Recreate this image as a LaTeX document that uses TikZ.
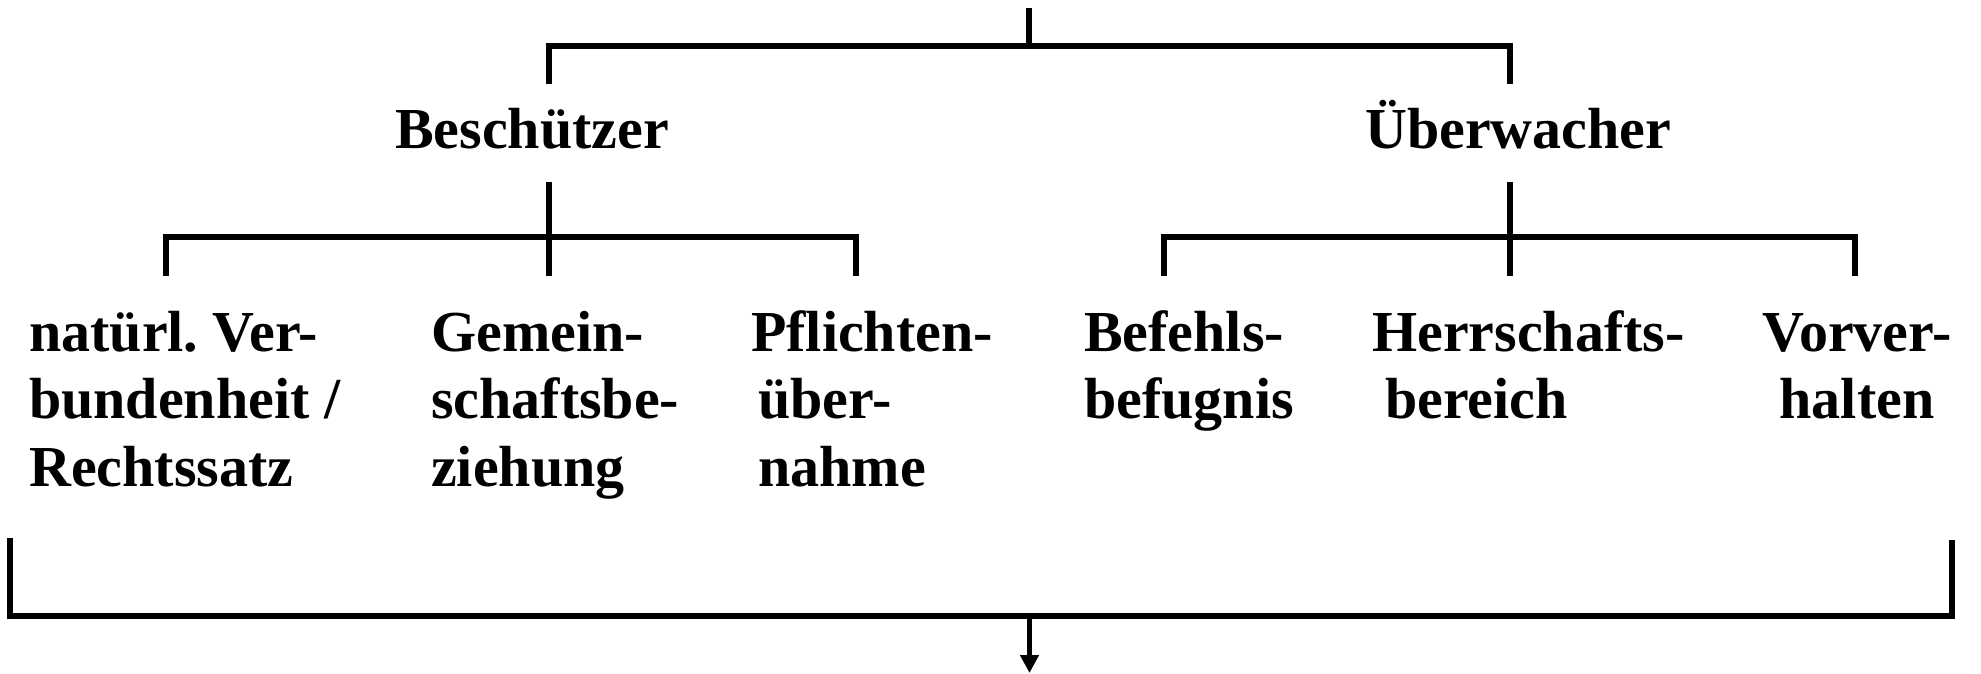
\documentclass[tikz,border=0pt]{standalone}
\usepackage{fontspec}
\setmainfont{Liberation Serif}
\usetikzlibrary{arrows.meta}
\frenchspacing
\begin{document}
\begin{tikzpicture}[x=1pt,y=-1pt,
  line/.style={line width=5.5pt},
  lbl/.style={inner sep=0pt, font=\fontsize{58}{67.5}\selectfont\bfseries\frenchspacing, anchor=base west}]
\useasboundingbox (0,0) rectangle (1981,673);
% labels
\node[lbl] (besch) at (395,148) {Beschützer};
\node[lbl] (uber) at (1365,148) {Überwacher};
\node[lbl] (n1) at (29,351) {\begin{tabular}[t]{@{}l@{}}natürl. Ver-\\bundenheit /\\Rechtssatz\end{tabular}};
\node[lbl] (n2) at (431,351) {\begin{tabular}[t]{@{}l@{}}Gemein-\\schaftsbe-\\ziehung\end{tabular}};
\node[lbl] (n3) at (751,351) {\begin{tabular}[t]{@{}l@{}}Pflichten-\\\hspace*{7pt}über-\\\hspace*{7pt}nahme\end{tabular}};
\node[lbl] (n4) at (1084,351) {\begin{tabular}[t]{@{}l@{}}Befehls-\\befugnis\end{tabular}};
\node[lbl] (n5) at (1372,351) {\begin{tabular}[t]{@{}l@{}}Herrschafts-\\\hspace*{13pt}bereich\end{tabular}};
\node[lbl, anchor=base] (n6) at (1857,351) {\begin{tabular}[t]{@{}c@{}}Vorver-\\halten\end{tabular}};
% coordinates
\coordinate (root) at (1029,8);
\coordinate (rootj) at (1029,46);
\coordinate (tl) at (549,46);
\coordinate (tr) at (1510,46);
\coordinate (tlb) at (549,84);
\coordinate (trb) at (1510,84);
\coordinate (bs) at (549,182);
\coordinate (bl) at (166,237);
\coordinate (br) at (856,237);
\coordinate (c1) at (166,276);
\coordinate (c2) at (549,276);
\coordinate (c3) at (856,276);
\coordinate (us) at (1510,182);
\coordinate (ul) at (1164,237);
\coordinate (ur) at (1855,237);
\coordinate (d1) at (1164,276);
\coordinate (d2) at (1510,276);
\coordinate (d3) at (1855,276);
\coordinate (bl0) at (10,538);
\coordinate (bb0) at (10,616);
\coordinate (bb1) at (1952,616);
\coordinate (br0) at (1952,540);
\coordinate (aj) at (1029.5,616);
\coordinate (aend) at (1029.5,673);
% connectors
\draw[line] (root) -- (rootj);
\draw[line] (tlb) -- (tl) -- (tr) -- (trb);
\draw[line] (bs) -- (c2);
\draw[line] (c1) -- (bl) -- (br) -- (c3);
\draw[line] (us) -- (d2);
\draw[line] (d1) -- (ul) -- (ur) -- (d3);
\draw[line] (bl0) -- (bb0) -- (bb1) -- (br0);
\draw[line width=5pt, -{Triangle[length=18pt,width=18pt]}] (aj) -- (aend);
\end{tikzpicture}
\end{document}
